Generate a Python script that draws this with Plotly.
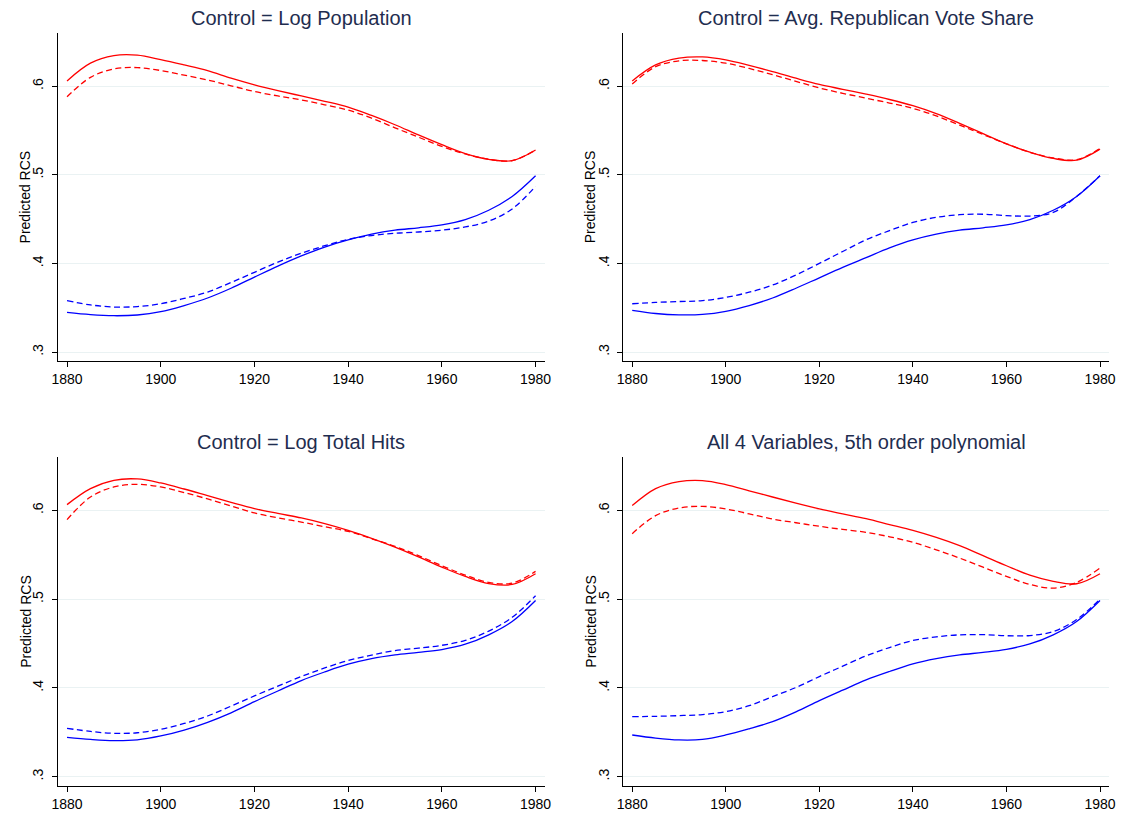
import plotly.graph_objects as go

years = list(range(1880, 1981, 5))

titles = ["Control = Log Population", "Control = Avg. Republican Vote Share",
          "Control = Log Total Hits", "All 4 Variables, 5th order polynomial"]

# Panel 1
p1_red_solid = [.606, .626, .6345, .635, .630, .624, .6175, .609, .6015, .595, .589, .583, .5765, .567, .5565, .545, .534, .524, .5175, .516, .528]
p1_red_dash = [.588, .610, .6195, .621, .6177, .6125, .607, .6005, .594, .589, .5845, .579, .573, .564, .553, .5425, .532, .5235, .5175, .516, .528]
p1_blue_solid = [.3447, .3422, .341, .3418, .3455, .3525, .361, .372, .3846, .397, .4085, .4185, .4265, .433, .4375, .4402, .4435, .4495, .460, .4756, .499]
p1_blue_dash = [.358, .3532, .3508, .3513, .3545, .3605, .3677, .3785, .390, .4015, .4115, .420, .4272, .4315, .434, .4355, .4375, .4412, .4478, .4615, .487]

# Panel 2
p2_red_solid = [.606, .624, .6316, .633, .6297, .6235, .6165, .609, .602, .5965, .591, .585, .578, .569, .558, .5465, .535, .5255, .5185, .5165, .529]
p2_red_dash = [.6026, .622, .6286, .629, .626, .620, .613, .6055, .598, .592, .5865, .581, .575, .5665, .556, .5455, .535, .5255, .519, .517, .5297]
p2_blue_solid = [.347, .3435, .342, .3425, .346, .3525, .361, .372, .3838, .3955, .4065, .4175, .4265, .433, .4375, .4402, .4435, .4495, .460, .4756, .499]
p2_blue_dash = [.3545, .356, .357, .358, .3617, .3675, .3756, .387, .400, .4135, .4267, .437, .4462, .452, .455, .4555, .454, .4535, .4575, .4756, .499]

# Panel 3
p3_red_solid = [.6064, .6244, .6338, .6353, .6308, .624, .6165, .609, .602, .5965, .5914, .585, .5774, .5685, .5586, .5475, .536, .5255, .5175, .5165, .5286]
p3_red_dash = [.5895, .615, .6263, .6293, .6263, .620, .6128, .605, .597, .5915, .5868, .5815, .5763, .568, .5594, .549, .5376, .527, .5188, .518, .5312]
p3_blue_solid = [.3444, .342, .3406, .3415, .3459, .3525, .3613, .372, .3846, .3965, .4083, .418, .4267, .433, .4372, .4400, .4432, .4492, .4598, .4748, .4985]
p3_blue_dash = [.3545, .351, .3489, .3495, .3534, .360, .3684, .3795, .391, .402, .4128, .4225, .4308, .437, .4421, .4448, .4480, .4535, .4640, .4795, .5038]

# Panel 4
p4_red_solid = [.6053, .6244, .6323, .6335, .629, .622, .615, .608, .6015, .596, .5906, .584, .5774, .5695, .5602, .549, .5376, .527, .520, .5173, .5286]
p4_red_dash = [.5737, .594, .6026, .6045, .6015, .596, .5902, .586, .582, .5785, .5752, .5702, .5639, .5555, .5462, .536, .5256, .5165, .5124, .5188, .535]
p4_blue_solid = [.347, .3435, .3414, .342, .347, .354, .362, .373, .3857, .3975, .409, .4185, .4271, .433, .4372, .4400, .4435, .4495, .4598, .4748, .4985]
p4_blue_dash = [.3677, .368, .3688, .370, .3733, .380, .3902, .4005, .4128, .4245, .4361, .4455, .4534, .4575, .4598, .460, .4588, .4590, .4635, .4770, .500]

panels = [
    (p1_red_solid, p1_red_dash, p1_blue_solid, p1_blue_dash),
    (p2_red_solid, p2_red_dash, p2_blue_solid, p2_blue_dash),
    (p3_red_solid, p3_red_dash, p3_blue_solid, p3_blue_dash),
    (p4_red_solid, p4_red_dash, p4_blue_solid, p4_blue_dash),
]

y_ticks = [0.3, 0.4, 0.5, 0.6]
y_ticktext = [".3", ".4", ".5", ".6"]
x_ticks = [1880, 1900, 1920, 1940, 1960, 1980]

W, H = 1127, 822
xdoms = [[52.5 / W, 545 / W], [624.3 / W, 1116 / W]]
ydoms = [[1 - 361 / H, 1 - 33.3 / H], [1 - 785.7 / H, 1 - 457.3 / H]]

FONT = "Arial, Liberation Sans, sans-serif"
RED = "#ff0000"
BLUE = "#0000ff"
DASH = "6px,3.5px"

fig = go.Figure()
layout = dict(width=W, height=H, margin=dict(l=0, r=0, t=0, b=0),
              paper_bgcolor="white", plot_bgcolor="white", showlegend=False,
              font=dict(family=FONT, size=14, color="#000000"))
annotations = []

for i, (rs, rd, bs, bd) in enumerate(panels):
    col = i % 2
    row = i // 2
    xa = "x" if i == 0 else f"x{i+1}"
    ya = "y" if i == 0 else f"y{i+1}"
    for vals, color, dash in [(rs, RED, "solid"), (rd, RED, DASH), (bs, BLUE, "solid"), (bd, BLUE, DASH)]:
        fig.add_trace(go.Scatter(x=years, y=vals, mode="lines", xaxis=xa, yaxis=ya,
                                 line=dict(color=color, width=1.3, dash=dash, shape="spline", smoothing=1.0),
                                 hoverinfo="skip"))
    xkey = "xaxis" if i == 0 else f"xaxis{i+1}"
    ykey = "yaxis" if i == 0 else f"yaxis{i+1}"
    layout[xkey] = dict(domain=xdoms[col], anchor=ya, range=[1878.05, 1981.95],
                        tickvals=x_ticks, ticks="outside", ticklen=5, tickcolor="#000000",
                        showline=True, linecolor="#000000", linewidth=1, showgrid=False,
                        zeroline=False, tickfont=dict(size=14, family=FONT, color="#000000"))
    layout[ykey] = dict(domain=ydoms[row], anchor=xa, range=[0.2899, 0.6597],
                        tickvals=y_ticks, ticktext=y_ticktext, tickangle=-90,
                        ticks="outside", ticklen=5, tickcolor="#000000", ticklabelstandoff=3,
                        showline=True, linecolor="#000000", linewidth=1,
                        showgrid=True, gridcolor="#eaf2f3", gridwidth=1, zeroline=False,
                        tickfont=dict(size=14, family=FONT, color="#000000"))
    cx = (xdoms[col][0] + xdoms[col][1]) / 2
    ty = 1 - 18 / H if row == 0 else 1 - 442 / H
    annotations.append(dict(text=titles[i], x=cx, y=ty, xref="paper", yref="paper",
                            xanchor="center", yanchor="middle", showarrow=False,
                            font=dict(family=FONT, size=20, color="#1f2d4f")))
    axx = (19.5 if col == 0 else 591) / W
    axy = (ydoms[row][0] + ydoms[row][1]) / 2
    annotations.append(dict(text="Predicted RCS", x=axx, y=axy, xref="paper", yref="paper",
                            xanchor="center", yanchor="middle", showarrow=False, textangle=-90,
                            font=dict(family=FONT, size=14, color="#000000")))

layout["annotations"] = annotations
fig.update_layout(**layout)
fig.write_html("out.html")
